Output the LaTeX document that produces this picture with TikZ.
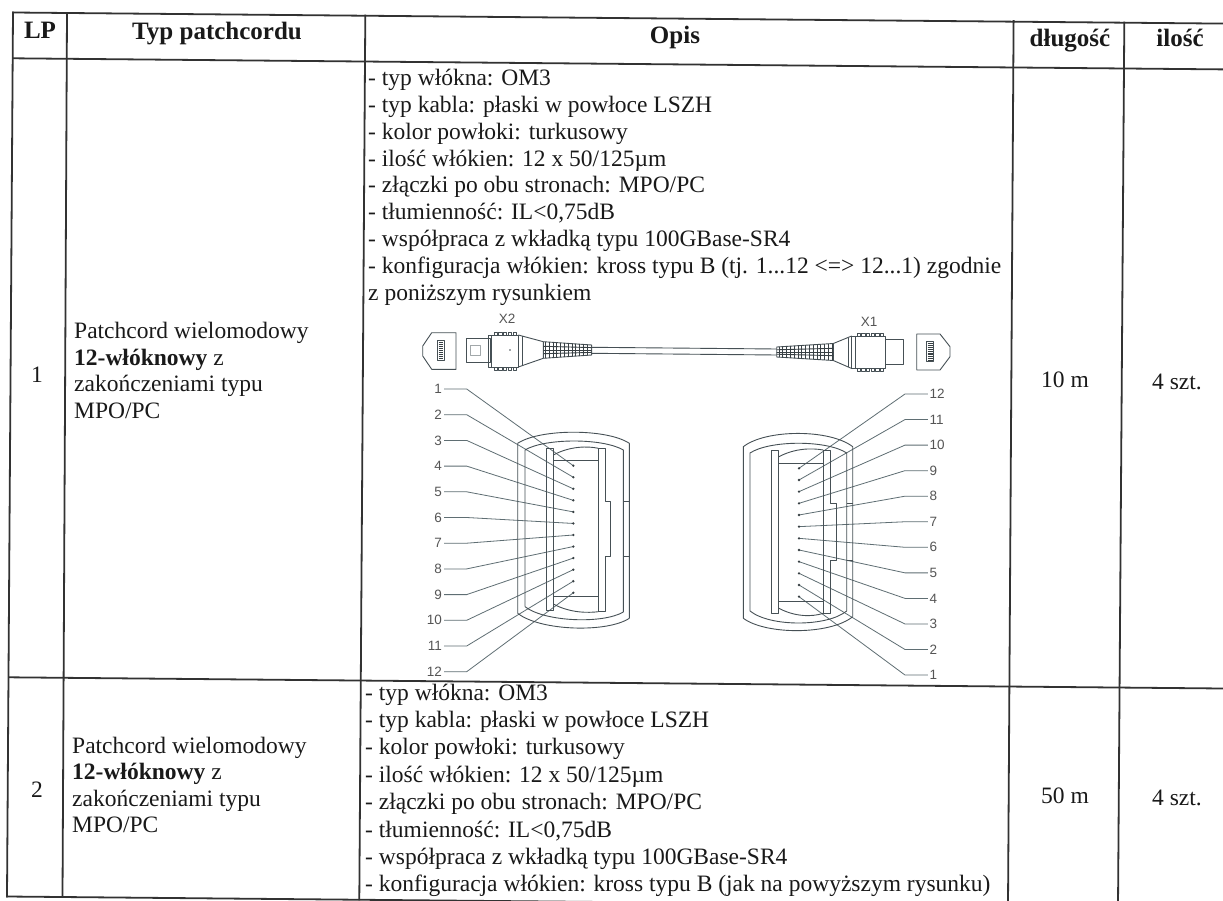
\documentclass[tikz,border=0pt]{standalone}
\usepackage{fontspec}
\setmainfont{Liberation Serif}
\newfontfamily\lblfont{Liberation Sans}
\definecolor{gridc}{RGB}{50,50,50}
\definecolor{txtc}{RGB}{25,25,25}
\definecolor{connc}{RGB}{70,80,85}
\definecolor{leadc}{RGB}{95,110,115}
\definecolor{lblc}{RGB}{85,85,85}
\tikzset{
 gridline/.style={draw=gridc,line width=1.8pt,line cap=rect},
 body/.style={font=\fontsize{23.5}{27}\selectfont,text=txtc,inner sep=0pt,anchor=base west},
 bodyc/.style={font=\fontsize{23.5}{27}\selectfont,text=txtc,inner sep=0pt,anchor=base},
 head/.style={font=\fontsize{25}{28}\selectfont\bfseries,text=txtc,inner sep=0pt,anchor=base},
 lbl/.style={font=\lblfont\fontsize{13.5}{15}\selectfont,text=lblc,inner sep=0pt},
 conn/.style={draw=connc,line width=0.9pt,line join=round},
 lead/.style={draw=leadc,line width=0.8pt},
 hatch/.style={draw=connc!80!black,line width=0.9pt},
}
\begin{document}
\begin{tikzpicture}[x=1pt,y=-1pt]
\useasboundingbox (0,0) rectangle (1223,901);
\fill[white] (0,0) rectangle (1223,901);

% ---------- table grid ----------
\draw[gridline] (13,12.5) -- (1223,23.6);
\draw[gridline] (13,58.3) -- (1223,69.4);
\draw[gridline] (9,677.3) -- (1223,688.5);
\draw[gridline] (7,896.5) -- (1223,907.7);
\draw[gridline] (13,12.5) -- (7,896.5);
\draw[gridline] (67,13) -- (62.5,897);
\draw[gridline] (365.3,15.5) -- (359.3,899.5);
\draw[gridline] (1013.6,21) -- (1008,905);
\draw[gridline] (1124.3,22.5) -- (1118,906);

% ---------- header ----------
\node[head] (hlp) at (40,38.3) {LP};
\node[head] (htyp) at (217,39.3) {Typ patchcordu};
\node[head] (hopis) at (675,43.5) {Opis};
\node[head] (hdl) at (1070,47) {długość};
\node[head] (hil) at (1180,47) {ilość};

% ---------- row 1 ----------
\node[bodyc] (n1) at (37,382.8) {1};
\node[body] (t1a) at (74,338.6) {Patchcord wielomodowy};
\node[body] (t1b) at (74,365.1) {\textbf{12-włóknowy} z};
\node[body] (t1c) at (74,391.6) {zakończeniami typu};
\node[body] (t1d) at (74,418.1) {MPO/PC};

\node[body] (o1a) at (368,85.3) {- typ włókna: OM3};
\node[body] (o1b) at (368,112.2) {- typ kabla: płaski w powłoce LSZH};
\node[body] (o1c) at (368,139.2) {- kolor powłoki: turkusowy};
\node[body] (o1d) at (368,166.1) {- ilość włókien: 12 x 50/125µm};
\node[body] (o1e) at (368,193.0) {- złączki po obu stronach: MPO/PC};
\node[body] (o1f) at (368,220.0) {- tłumienność: IL<0,75dB};
\node[body] (o1g) at (368,246.9) {- współpraca z wkładką typu 100GBase-SR4};
\node[body] (o1h) at (368,273.8) {- konfiguracja włókien: kross typu B (tj. 1...12 <=> 12...1) zgodnie};
\node[body] (o1i) at (368,300.7) {z poniższym rysunkiem};

\node[bodyc] (len1) at (1065,387.8) {10 m};
\node[bodyc] (qty1) at (1177,389) {4 szt.};

% ---------- row 2 ----------
\node[bodyc] (n2) at (37,797.8) {2};
\node[body] (t2a) at (72,753.3) {Patchcord wielomodowy};
\node[body] (t2b) at (72,779.8) {\textbf{12-włóknowy} z};
\node[body] (t2c) at (72,806.3) {zakończeniami typu};
\node[body] (t2d) at (72,832.8) {MPO/PC};

\node[body] (o2a) at (365,700) {- typ włókna: OM3};
\node[body] (o2b) at (365,727.4) {- typ kabla: płaski w powłoce LSZH};
\node[body] (o2c) at (365,754.8) {- kolor powłoki: turkusowy};
\node[body] (o2d) at (365,782.2) {- ilość włókien: 12 x 50/125µm};
\node[body] (o2e) at (365,809.6) {- złączki po obu stronach: MPO/PC};
\node[body] (o2f) at (365,837.0) {- tłumienność: IL<0,75dB};
\node[body] (o2g) at (365,864.4) {- współpraca z wkładką typu 100GBase-SR4};
\node[body] (o2h) at (365,891.8) {- konfiguracja włókien: kross typu B (jak na powyższym rysunku)};

\node[bodyc] (len2) at (1065,803.8) {50 m};
\node[bodyc] (qty2) at (1177,805) {4 szt.};

% ---------- cable drawing (top) ----------
\node[lbl] (x2) at (507,319) {X2};
\node[lbl] (x1) at (869,321.7) {X1};
% left cap
\draw[conn] (431.7,332.7) -- (456,332.7) -- (456,369.3) -- (431.7,369.3) -- (422.7,356) -- (422.7,346) -- cycle;
\draw[conn] (437.7,340.7) rectangle (444,360);
\foreach \k in {0,...,8} \draw[hatch,line width=0.6pt] (438.5,342.5+\k*2) -- (443.2,342.5+\k*2);
% left plug
\draw[conn] (466.7,338.3) rectangle (490,362.7);
\draw[conn,draw=connc!50] (470,345) rectangle (480,355);
% left housing
\draw[conn] (488.3,335) rectangle (518.3,367);
\draw[conn] (491.7,335) -- (491.7,367);
\foreach \k in {0,...,4} {
  \draw[conn,line width=0.7pt] (494+\k*4.8,335) rectangle ++(3.2,-3);
  \draw[conn,line width=0.7pt] (494+\k*4.8,367) rectangle ++(3.2,3);
}
\fill[connc] (510,350) circle (0.9);
% left taper
\draw[conn] (518.3,335) -- (543.3,341.7);
\draw[conn] (518.3,367) -- (543.3,358.3);
\draw[conn] (522,336) -- (522,366);
% left boot
\draw[conn] (543.3,341.7) -- (591.7,345) -- (591.7,355) -- (543.3,358.3) -- cycle;
\begin{scope}
  \clip (543.3,341.7) -- (591.7,345) -- (591.7,355) -- (543.3,358.3) -- cycle;
  \foreach \k in {0,...,12} \draw[hatch] (545.5+\k*3.8,340) -- ++(0,20);
  \draw[hatch] (543,346.3) -- (592,347.6);
  \draw[hatch] (543,350) -- (592,350);
  \draw[hatch] (543,353.7) -- (592,352.4);
\end{scope}
% cable
\draw[conn] (591.7,347.3) -- (776.7,349);
\draw[conn] (591.7,353.3) -- (776.7,355);
% right boot
\draw[conn] (776.7,347) -- (833.3,343.5) -- (833.3,360.5) -- (776.7,357) -- cycle;
\begin{scope}
  \clip (776.7,347) -- (833.3,343.5) -- (833.3,360.5) -- (776.7,357) -- cycle;
  \foreach \k in {0,...,14} \draw[hatch] (779+\k*3.8,340) -- ++(0,24);
  \draw[hatch] (776,349.8) -- (834,348.3);
  \draw[hatch] (776,352) -- (834,352);
  \draw[hatch] (776,354.2) -- (834,355.7);
\end{scope}
% right taper
\draw[conn] (833.3,343.5) -- (851.7,336);
\draw[conn] (833.3,360.5) -- (851.7,368.5);
\draw[conn] (848,337.5) -- (848,367);
% right housing
\draw[conn] (851.7,336) rectangle (885,368.5);
\draw[conn] (855,336) -- (855,368.5);
\foreach \k in {0,...,5} {
  \draw[conn,line width=0.7pt] (857+\k*4.7,336) rectangle ++(3.2,-3);
  \draw[conn,line width=0.7pt] (857+\k*4.7,368.5) rectangle ++(3.2,3);
}
% right plug
\draw[conn] (885,339.5) rectangle (903.3,364.5);
% right cap
\draw[conn] (916.7,334) -- (940,334) -- (950,346.7) -- (950,356.7) -- (940,370) -- (916.7,370) -- cycle;
\draw[conn] (926.7,341.7) rectangle (933.3,361.7);
\foreach \k in {0,...,9} \draw[hatch,line width=0.6pt] (927.5,343.3+\k*1.9) -- (932.5,343.3+\k*1.9);

% ---------- left face (X2) ----------
\foreach \i in {1,...,12} {
  \pgfmathsetmacro\ly{389+(\i-1)*25.7}
  \pgfmathsetmacro\dy{465.7+(\i-1)*11.55}
  \node[lbl,anchor=east] (Ll\i) at (442,\ly) {\i};
  \coordinate (Lh\i) at (466.7,\ly);
  \coordinate (Ld\i) at (573.3,\dy);
  \draw[lead] ([xshift=2pt]Ll\i.east) -- (Lh\i) -- (Ld\i);
  \fill[connc!80!black] (Ld\i) circle (1.3);
}
\draw[conn] (517.7,613.3) -- (517.7,443.3) .. controls (540,428.5) and (607,428.5) .. (629.3,443.3) -- (629.3,618.3);
\draw[conn] (517.7,613.3) .. controls (540,631) and (607,633) .. (629.3,618.3);
\draw[conn] (525,606.7) -- (525,450) .. controls (545,438) and (603,438) .. (623.3,450) -- (623.3,612);
\draw[conn] (525,606.7) .. controls (545,622) and (603,624) .. (623.3,612);
\draw[conn] (546.7,448.3) rectangle (553.3,610);
\draw[conn] (553.3,460) -- (598.3,460);
\draw[conn] (553.3,596.7) -- (598.3,596.7);
\draw[conn] (553.3,455) .. controls (570,446) and (588,446) .. (598.3,448.3);
\draw[conn] (553.3,604) .. controls (570,613) and (588,613) .. (598.3,611.7);
\draw[conn] (598.3,448.3) -- (598.3,611.7);
\draw[conn] (598.3,448.3) -- (605,448.3) -- (605,501.7) -- (610.7,501.7) -- (610.7,556.7) -- (605,556.7) -- (605,611.7) -- (598.3,611.7);
\draw[conn] (623.3,501.7) -- (629.3,501.7);
\draw[conn] (623.3,556.7) -- (629.3,556.7);

% ---------- right face (X1) ----------
\foreach \i in {1,...,12} {
  \pgfmathsetmacro\ly{394+(12-\i)*25.55}
  \pgfmathsetmacro\dy{468.3+(12-\i)*11.67}
  \node[lbl,anchor=west] (Rl\i) at (929.3,\ly) {\i};
  \coordinate (Rh\i) at (905,\ly);
  \coordinate (Rd\i) at (799,\dy);
  \draw[lead] (Rd\i) -- (Rh\i) -- ([xshift=-1.5pt]Rl\i.west);
  \fill[connc!80!black] (Rd\i) circle (1.3);
}
\draw[conn] (743.3,618.3) -- (743.3,446.7) .. controls (766,429) and (830,429) .. (852.7,446.7) -- (852.7,616.7);
\draw[conn] (743.3,618.3) .. controls (766,635) and (830,635) .. (852.7,616.7);
\draw[conn] (750,611) -- (750,453) .. controls (770,440) and (827,440) .. (846.7,453) -- (846.7,611);
\draw[conn] (750,611) .. controls (770,627) and (827,627) .. (846.7,611);
\draw[conn] (771.7,450) rectangle (778.3,613.3);
\draw[conn] (778.3,463.3) -- (823.3,463.3);
\draw[conn] (778.3,601.7) -- (823.3,601.7);
\draw[conn] (778.3,457) .. controls (795,448) and (812,448) .. (823.3,450);
\draw[conn] (778.3,608) .. controls (795,617) and (812,617) .. (823.3,613.3);
\draw[conn] (823.3,450) -- (823.3,613.3);
\draw[conn] (823.3,450) -- (830,450) -- (830,503.3) -- (836.7,503.3) -- (836.7,560) -- (830,560) -- (830,613.3) -- (823.3,613.3);
\draw[conn] (846.7,503.3) -- (852.7,503.3);
\draw[conn] (846.7,560) -- (852.7,560);
\end{tikzpicture}
\end{document}
